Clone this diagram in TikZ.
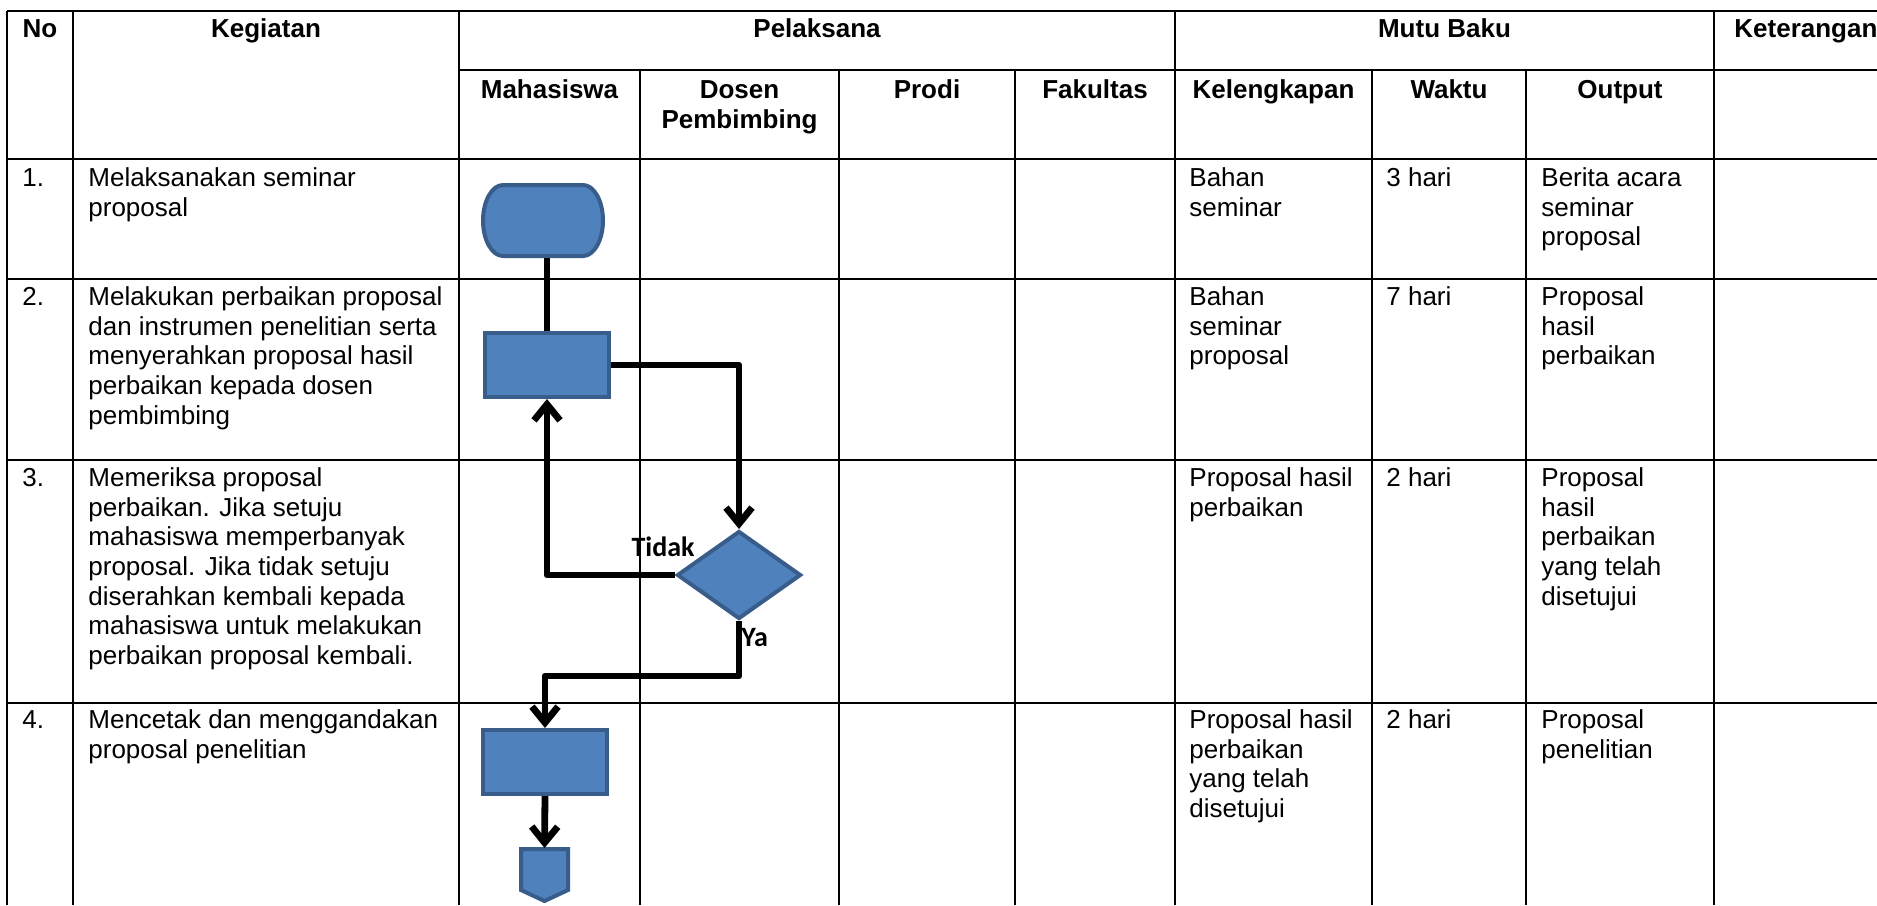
\documentclass[tikz,border=0pt]{standalone}
\usepackage{fontspec}
\setmainfont{Liberation Sans}
\newfontfamily\lblfont{Carlito}
\usetikzlibrary{arrows.meta,shapes.geometric}
\definecolor{shapefill}{RGB}{79,129,189}
\definecolor{shapeedge}{RGB}{56,93,138}
\begin{document}
\begin{tikzpicture}[x=0.5pt,y=-0.5pt,
  grid/.style={line width=0.9pt, black},
  body/.style={anchor=north west, align=left, inner sep=0pt, font=\fontsize{13}{14.85}\selectfont},
  head/.style={anchor=north, align=center, inner sep=0pt, font=\fontsize{13}{14.85}\selectfont\bfseries},
  fc/.style={fill=shapefill, draw=shapeedge, line width=2pt},
  procbox/.style={fc, rectangle, minimum width=62pt, minimum height=32pt, inner sep=0pt},
  decis/.style={fc, diamond, minimum width=62pt, minimum height=44pt, inner sep=0pt},
  ghost/.style={rectangle, inner sep=0pt, outer sep=1pt},
  link/.style={line width=3.4pt, black, line join=round},
  arr/.style={link, -{Straight Barb[length=8pt,width=13pt]}},
  lbl/.style={inner sep=0pt, font=\lblfont\fontsize{14}{16}\selectfont\bfseries}
]
\useasboundingbox (0,0) rectangle (1877,905);

% ---------- table grid ----------
\draw[grid] (7,11) -- (1877,11);
\draw[grid] (459,70) -- (1877,70);
\foreach \yy in {159,279,460,703} { \draw[grid] (7,\yy) -- (1877,\yy); }
\foreach \xx in {7,73,459,1175,1714} { \draw[grid] (\xx,11) -- (\xx,905); }
\foreach \xx in {640,839,1015,1372,1526} { \draw[grid] (\xx,70) -- (\xx,905); }

% ---------- header ----------
\node[head] (hno)  at (40,16.2) {\strut No};
\node[head] (hkeg) at (266,16.2) {\strut Kegiatan};
\node[head] (hpel) at (817,16.2) {\strut Pelaksana};
\node[head] (hmut) at (1444.5,16.2) {\strut Mutu Baku};
\node[head, anchor=north west] (hket) at (1734,16.2) {\strut Keterangan};
\node[head] (hmhs) at (549.5,77.2) {\strut Mahasiswa};
\node[head] (hdos) at (739.5,77.2) {\strut Dosen\\Pembimbing};
\node[head] (hpro) at (927,77.2) {\strut Prodi};
\node[head] (hfak) at (1095,77.2) {\strut Fakultas};
\node[head] (hkel) at (1273.5,77.2) {\strut Kelengkapan};
\node[head] (hwak) at (1449,77.2) {\strut Waktu};
\node[head] (hout) at (1620,77.2) {\strut Output};

% ---------- row 1 ----------
\node[body] (n1) at (22,165.2) {\strut 1.};
\node[body] (k1) at (88,165.2) {\strut Melaksanakan seminar\\proposal};
\node[body] (l1) at (1189,165.2) {\strut Bahan\\seminar};
\node[body] (w1) at (1386,165.2) {\strut 3 hari};
\node[body] (o1) at (1541,165.2) {\strut Berita acara\\seminar\\proposal};

% ---------- row 2 ----------
\node[body] (n2) at (22,284.2) {\strut 2.};
\node[body] (k2) at (88,284.2) {\strut Melakukan perbaikan proposal\\dan instrumen penelitian serta\\menyerahkan proposal hasil\\perbaikan kepada dosen\\pembimbing};
\node[body] (l2) at (1189,284.2) {\strut Bahan\\seminar\\proposal};
\node[body] (w2) at (1386,284.2) {\strut 7 hari};
\node[body] (o2) at (1541,284.2) {\strut Proposal\\hasil\\perbaikan};

% ---------- row 3 ----------
\node[body] (n3) at (22,465.2) {\strut 3.};
\node[body] (k3) at (88,465.2) {\strut Memeriksa proposal\\perbaikan. Jika setuju\\mahasiswa memperbanyak\\proposal. Jika tidak setuju\\diserahkan kembali kepada\\mahasiswa untuk melakukan\\perbaikan proposal kembali.};
\node[body] (l3) at (1189,465.2) {\strut Proposal hasil\\perbaikan};
\node[body] (w3) at (1386,465.2) {\strut 2 hari};
\node[body] (o3) at (1541,465.2) {\strut Proposal\\hasil\\perbaikan\\yang telah\\disetujui};

% ---------- row 4 ----------
\node[body] (n4) at (22,707.2) {\strut 4.};
\node[body] (k4) at (88,707.2) {\strut Mencetak dan menggandakan\\proposal penelitian};
\node[body] (l4) at (1189,707.2) {\strut Proposal hasil\\perbaikan\\yang telah\\disetujui};
\node[body] (w4) at (1386,707.2) {\strut 2 hari};
\node[body] (o4) at (1541,707.2) {\strut Proposal\\penelitian};

% ---------- flowchart shapes ----------
\node[ghost, minimum width=60pt, minimum height=35.5pt] (term) at (543,220.5) {};
\draw[fc] (503,185) -- (583,185)
  .. controls (594,185) and (603,200.9) .. (603,220.5)
  .. controls (603,240.1) and (594,256) .. (583,256)
  -- (503,256)
  .. controls (492,256) and (483,240.1) .. (483,220.5)
  .. controls (483,200.9) and (492,185) .. (503,185) -- cycle;
\node[procbox] (rect2) at (547,365) {};
\node[decis] (dia) at (739,575) {};
\node[procbox] (rect4) at (545,762) {};
\node[ghost, anchor=north, minimum width=23.5pt, minimum height=26pt] (offp) at (544.5,848) {};
\draw[fc] (521,849) -- (568,849) -- (568,890) -- (544.5,901) -- (521,890) -- cycle;

% ---------- connectors ----------
\coordinate (yb) at (545,676);
\draw[link] (rect2.north |- term.south) -- (rect2.north);
\draw[arr] (rect2.east) -| (dia.north);
\draw[arr] (dia.west) -| (rect2.south);
\draw[arr] (dia.south) |- (yb) -- (rect4.north);
\draw[arr] (rect4.south) -- (offp.north);

% ---------- labels ----------
\node[lbl, anchor=base east] (tidak) at (695,556) {Tidak};
\node[lbl, anchor=base west] (ya) at (741,646) {Ya};
\end{tikzpicture}
\end{document}
